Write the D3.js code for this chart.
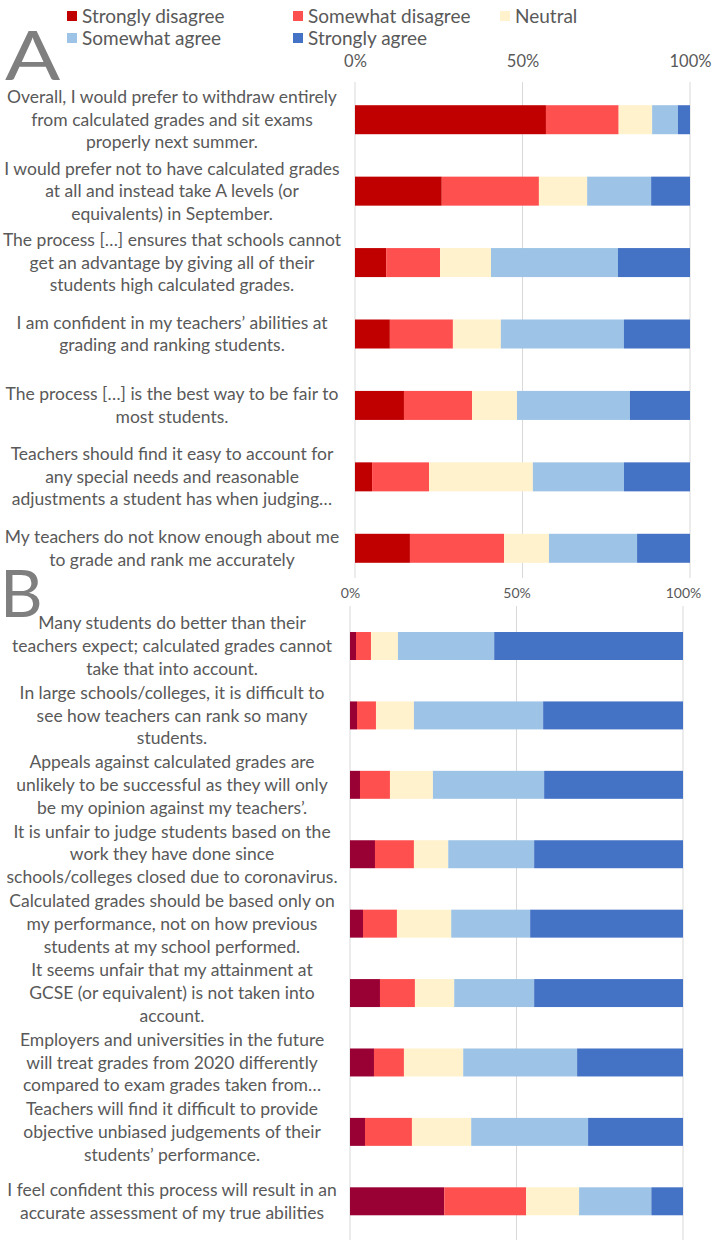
<!DOCTYPE html>
<html>
<head>
<meta charset="utf-8">
<script src="https://cdn.jsdelivr.net/npm/d3@7"></script>
<style>
  html, body { margin: 0; padding: 0; background: #fff; }
  svg { display: block; }
  text { font-family: Lato, "Open Sans", sans-serif; }
</style>
</head>
<body>
<svg id="chart" width="712" height="1240"></svg>
<script>
// ---------- DATA ----------
const levels = ["Strongly disagree", "Somewhat disagree", "Neutral", "Somewhat agree", "Strongly agree"];
const tickValues = [0, 0.5, 1];

const labelsA = [
  ["Overall, I would prefer to withdraw entirely", "from calculated grades and sit exams", "properly next summer."],
  ["I would prefer not to have calculated grades", "at all and instead take A levels (or", "equivalents) in September."],
  ["The process […] ensures that schools cannot", "get an advantage by giving all of their", "students high calculated grades."],
  ["I am confident in my teachers’ abilities at", "grading and ranking students."],
  ["The process […] is the best way to be fair to", "most students."],
  ["Teachers should find it easy to account for", "any special needs and reasonable", "adjustments a student has when judging…"],
  ["My teachers do not know enough about me", "to grade and rank me accurately"]
];
const stronglyDisagreeA = [57.0, 25.9, 9.3, 10.4, 14.6, 5.1, 16.4];
const somewhatDisagreeA = [21.7, 29.0, 16.1, 18.8, 20.3, 17.0, 28.1];
const neutralA          = [10.0, 14.4, 15.2, 14.3, 13.4, 31.0, 13.4];
const somewhatAgreeA    = [7.7, 19.1, 37.9, 36.7, 33.7, 27.2, 26.3];
const stronglyAgreeA    = [3.6, 11.6, 21.5, 19.7, 17.9, 19.7, 15.8];

const labelsB = [
  ["Many students do better than their", "teachers expect; calculated grades cannot", "take that into account."],
  ["In large schools/colleges, it is difficult to", "see how teachers can rank so many", "students."],
  ["Appeals against calculated grades are", "unlikely to be successful as they will only", "be my opinion against my teachers’."],
  ["It is unfair to judge students based on the", "work they have done since", "schools/colleges closed due to coronavirus."],
  ["Calculated grades should be based only on", "my performance, not on how previous", "students at my school performed."],
  ["It seems unfair that my attainment at", "GCSE (or equivalent) is not taken into", "account."],
  ["Employers and universities in the future", "will treat grades from 2020 differently", "compared to exam grades taken from…"],
  ["Teachers will find it difficult to provide", "objective unbiased judgements of their", "students’ performance."],
  ["I feel confident this process will result in an", "accurate assessment of my true abilities"]
];
const stronglyDisagreeB = [1.8, 2.1, 3.0, 7.5, 3.9, 9.0, 7.2, 4.5, 28.3];
const somewhatDisagreeB = [4.5, 5.7, 9.0, 11.7, 10.2, 10.5, 9.0, 14.1, 24.6];
const neutralB          = [8.1, 11.4, 12.9, 10.3, 16.3, 11.8, 17.8, 17.8, 15.9];
const somewhatAgreeB    = [28.9, 38.8, 33.4, 25.8, 23.7, 24.0, 34.2, 35.1, 21.7];
const stronglyAgreeB    = [56.7, 42.0, 41.7, 44.7, 45.9, 44.7, 31.8, 28.5, 9.5];

// ---------- STYLE ----------
const colorsA = ["#C00000", "#FF5050", "#FFF2CC", "#9DC3E6", "#4472C4"];
const colorsB = ["#990033", "#FF5050", "#FFF2CC", "#9DC3E6", "#4472C4"];
const textColor = "#595959";
const gridColor = "#D9D9D9";

const svg = d3.select("#chart");

function buildRows(labels, series) {
  return labels.map((lab, i) => {
    const row = { key: i, label: lab };
    levels.forEach((lv, j) => { row[lv] = series[j][i]; });
    return row;
  });
}

function drawPanel(opts) {
  const rows = buildRows(opts.labels, opts.series);
  const x = d3.scaleLinear().domain([0, 1]).range([opts.x0, opts.x1]);
  const y = d3.scaleBand().domain(rows.map(r => r.key)).range([opts.y0, opts.y1]).paddingInner(opts.pad).paddingOuter(opts.pad / 2);
  const g = svg.append("g");

  // gridlines
  g.append("g").selectAll("line").data(tickValues).join("line")
    .attr("x1", d => x(d)).attr("x2", d => x(d))
    .attr("y1", opts.gridTop).attr("y2", opts.gridBottom)
    .attr("stroke", gridColor).attr("stroke-width", 1);

  // axis labels
  const axis = d3.axisTop(x).tickValues(tickValues).tickFormat(d3.format(".0%")).tickSize(0).tickPadding(0);
  const ax = g.append("g").attr("transform", `translate(0,${opts.axisY})`).call(axis);
  ax.select(".domain").remove();
  ax.selectAll("text").attr("fill", textColor).style("font-size", opts.axisFont + "px").style("font-family", "Lato, sans-serif");

  // stacked bars
  const stack = d3.stack().keys(levels).value((d, k) => d[k]);
  const stacked = stack(rows);
  const total = r => levels.reduce((s, k) => s + r[k], 0);
  g.append("g").selectAll("g").data(stacked).join("g")
    .attr("fill", (d, i) => opts.colors[i])
    .selectAll("rect").data(d => d).join("rect")
    .attr("x", d => x(d[0] / total(d.data)))
    .attr("width", d => x(d[1] / total(d.data)) - x(d[0] / total(d.data)))
    .attr("y", d => y(d.data.key))
    .attr("height", y.bandwidth());

  // category labels
  const lh = opts.lineHeight;
  const lab = g.append("g").selectAll("text").data(rows).join("text")
    .attr("text-anchor", "middle")
    .attr("fill", textColor)
    .style("font-size", opts.labelFont + "px")
    .attr("transform", d => `translate(${opts.labelX},${y(d.key) + y.bandwidth() / 2})`);
  lab.selectAll("tspan").data(d => d.label.map((t, i) => ({ t, i, n: d.label.length }))).join("tspan")
    .attr("x", 0)
    .attr("y", d => (d.i - (d.n - 1) / 2) * lh)
    .attr("dy", "0.35em")
    .text(d => d.t);
}

// Legend
const legendPos = [[67, 16], [293, 16], [500, 16], [67, 38], [293, 38]];
const leg = svg.append("g").selectAll("g").data(levels).join("g")
  .attr("transform", (d, i) => `translate(${legendPos[i][0]},${legendPos[i][1]})`);
leg.append("rect").attr("x", 0).attr("y", -5).attr("width", 10).attr("height", 10)
  .attr("fill", (d, i) => colorsA[i]);
leg.append("text").attr("x", 15).attr("dy", "0.35em").attr("fill", textColor)
  .style("font-size", "19px").text(d => d);

// Panel letters
svg.append("text").attr("transform", "translate(5,80) scale(1.2,1)").attr("fill", "#7F7F7F").style("font-size", "68px").text("A");
svg.append("text").attr("x", 0).attr("y", 617).attr("fill", "#7F7F7F").style("font-size", "66px").text("B");

drawPanel({
  labels: labelsA,
  series: [stronglyDisagreeA, somewhatDisagreeA, neutralA, somewhatAgreeA, stronglyAgreeA],
  colors: colorsA,
  x0: 355, x1: 690, y0: 84, y1: 584, pad: 0.594,
  gridTop: 82, gridBottom: 578, axisY: 67, axisFont: 16.5,
  labelX: 172, labelFont: 17.5, lineHeight: 22.5
});

drawPanel({
  labels: labelsB,
  series: [stronglyDisagreeB, somewhatDisagreeB, neutralB, somewhatAgreeB, stronglyAgreeB],
  colors: colorsB,
  x0: 350, x1: 683, y0: 611.3, y1: 1236, pad: 0.597,
  gridTop: 606, gridBottom: 1240, axisY: 598, axisFont: 14,
  labelX: 172, labelFont: 17.5, lineHeight: 22.8
});
</script>
</body>
</html>
